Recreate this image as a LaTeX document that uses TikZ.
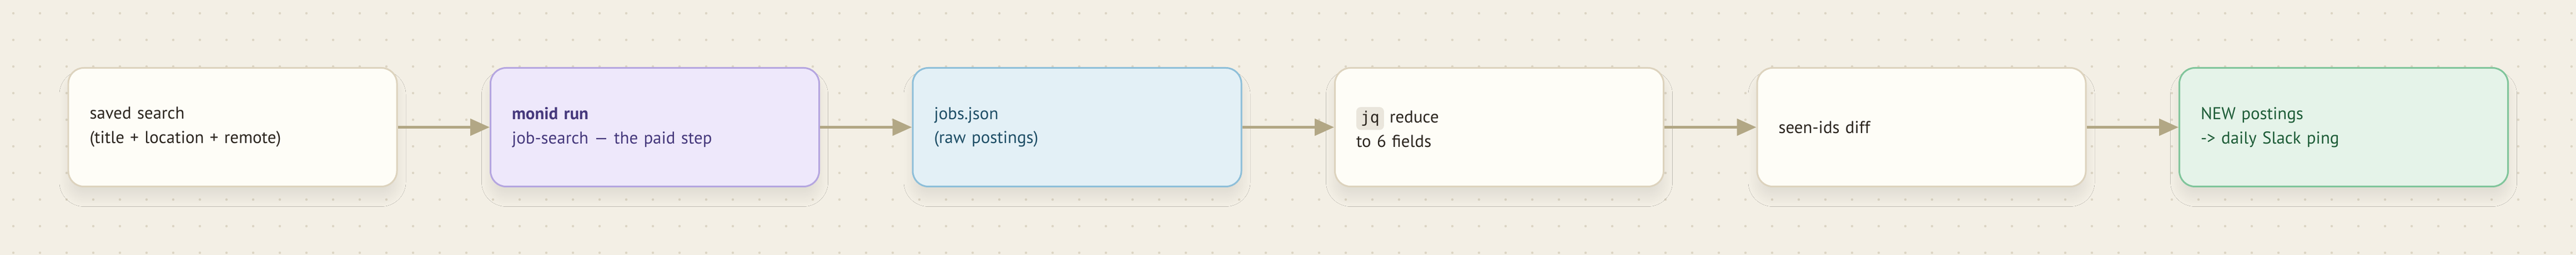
\documentclass[tikz,border=0pt]{standalone}
\usepackage{fontspec}
\setmainfont{PT Sans}
\setmonofont{DejaVu Sans Mono}
\usepackage{xcolor}
\usepackage{tikz}
\usetikzlibrary{arrows.meta,shapes,positioning,shadows.blur}
\definecolor{bgcream}{HTML}{F3EFE5}
\definecolor{dotgray}{HTML}{DCD5C4}
\definecolor{plainfill}{HTML}{FEFDF7}
\definecolor{plainline}{HTML}{DDD3BE}
\definecolor{plaintext}{HTML}{2B251E}
\definecolor{purplefill}{HTML}{EEE8FB}
\definecolor{purpleline}{HTML}{B5A6E0}
\definecolor{purpletext}{HTML}{45387C}
\definecolor{bluefill}{HTML}{E3F0F6}
\definecolor{blueline}{HTML}{8EBFD9}
\definecolor{bluetext}{HTML}{1E4E66}
\definecolor{greenfill}{HTML}{E5F3E9}
\definecolor{greenline}{HTML}{80C59B}
\definecolor{greentext}{HTML}{1D5C37}
\definecolor{arrowtan}{HTML}{B2A785}
\definecolor{chipgray}{HTML}{EAE6DC}

\newcommand{\codechip}[1]{\tikz[baseline=(chip.base)]\node[draw=none, fill=chipgray, rounded corners=0.08cm,
  text width=, minimum width=0pt, minimum height=0pt, inner xsep=0.08cm, inner ysep=0.07cm,
  font=\fontsize{8pt}{9pt}\ttfamily, text=plaintext] (chip) {#1};}

\begin{document}
\begin{tikzpicture}[
    box/.style={draw=#1line, fill=#1fill, text=#1text, line width=0.85pt, rounded corners=0.28cm,
      minimum width=5.92cm, minimum height=2.14cm, text width=5.15cm, align=left, inner xsep=0.38cm,
      font=\fontsize{8.8pt}{12.5pt}\selectfont,
      blur shadow={shadow xshift=0pt, shadow yshift=-0.2cm, shadow blur radius=0.16cm, shadow blur steps=24, shadow opacity=7}},
    arrow/.style={-{Triangle[length=0.35cm, width=0.30cm]}, line width=0.05cm, draw=arrowtan}
]
% Background and dot grid
\fill[bgcream] (0,0) rectangle (46.4,4.6);
\useasboundingbox (0,0) rectangle (46.4,4.6);
\foreach \i in {0,...,96}
  \foreach \j in {0,...,9}
    \fill[dotgray] (0.24+0.48*\i, 4.36-0.48*\j) circle (0.022);

% Pipeline steps
\node[box=plain] (search) at (4.19,2.305) {saved search\\(title + location + remote)};
\node[box=purple] (run) at (11.795,2.305) {\textbf{monid run}\\job-search --- the paid step};
\node[box=blue] (jobs) at (19.40,2.305) {jobs.json\\(raw postings)};
\node[box=plain] (reduce) at (27.005,2.305) {\codechip{jq} reduce\\to 6 fields};
\node[box=plain] (diff) at (34.61,2.305) {seen-ids diff};
\node[box=green] (ping) at (42.215,2.305) {NEW postings\\-> daily Slack ping};

% Arrows
\draw[arrow] (search) -- (run);
\draw[arrow] (run) -- (jobs);
\draw[arrow] (jobs) -- (reduce);
\draw[arrow] (reduce) -- (diff);
\draw[arrow] (diff) -- (ping);
\end{tikzpicture}
\end{document}
